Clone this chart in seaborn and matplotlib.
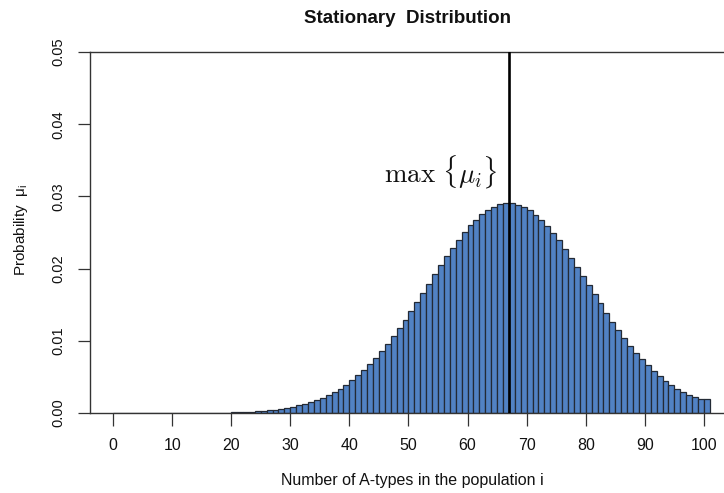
import numpy as np
import pandas as pd
import matplotlib
matplotlib.use("Agg")
import matplotlib.pyplot as plt
from matplotlib import font_manager
import seaborn as sns

# ---- data ----
states = list(range(0, 101))
probs = [
    0.0, 0.0, 0.0, 0.0, 0.0, 0.0, 0.0, 0.0, 0.0, 0.0,
    0.0, 0.0, 0.0, 0.0, 0.0, 0.00001, 0.00002, 0.00003, 0.00004, 0.00006,
    0.00008, 0.00011, 0.00014, 0.00018, 0.00023, 0.00029, 0.00036, 0.00044, 0.00055, 0.00068,
    0.00085, 0.00105, 0.00126, 0.00152, 0.00180, 0.00209, 0.00245, 0.00286, 0.00332, 0.00388,
    0.00457, 0.00520, 0.00594, 0.00674, 0.00757, 0.00859, 0.00956, 0.01062, 0.01173, 0.01293,
    0.01413, 0.01537, 0.01662, 0.01791, 0.01921, 0.02045, 0.02170, 0.02290, 0.02401, 0.02502,
    0.02600, 0.02673, 0.02756, 0.02816, 0.02858, 0.02893, 0.02909, 0.02905, 0.02884, 0.02850,
    0.02805, 0.02747, 0.02673, 0.02588, 0.02498, 0.02390, 0.02271, 0.02153, 0.02029, 0.01902,
    0.01773, 0.01644, 0.01519, 0.01390, 0.01265, 0.01150, 0.01039, 0.00933, 0.00831, 0.00743,
    0.00668, 0.00582, 0.00508, 0.00444, 0.00381, 0.00330, 0.00284, 0.00249, 0.00220, 0.00194,
    0.00194,
]
x_ticks = list(range(0, 101, 10))
y_ticks = [0.00, 0.01, 0.02, 0.03, 0.04, 0.05]
y_tick_labels = ["0.00", "0.01", "0.02", "0.03", "0.04", "0.05"]
title = "Stationary  Distribution"
x_label = "Number of A-types in the population i"
y_label = r"Probability  $\mathregular{\mu_i}$"
annot = r"$\max\ \{\mu_i\}$"

df = pd.DataFrame({"state": states, "prob": probs})

# ---- fonts ----
avail = {f.name for f in font_manager.fontManager.ttflist}
narrow = "Liberation Sans Narrow" if "Liberation Sans Narrow" in avail else "Liberation Sans"
regular = "Liberation Sans"

sns.set_style("white")
plt.rcParams["font.family"] = [regular, "DejaVu Sans"]
plt.rcParams["text.color"] = "#111111"
plt.rcParams["axes.labelcolor"] = "#111111"
plt.rcParams["xtick.color"] = "#111111"
plt.rcParams["ytick.color"] = "#111111"

fig = plt.figure(figsize=(7.24, 4.93), dpi=100)
ax = fig.add_axes([90 / 724, 80 / 493, 634 / 724, 361 / 493])

sns.histplot(
    data=df, x="state", weights="prob", binwidth=1, binrange=(0, 101),
    color="#5182C4", edgecolor="#232a35", linewidth=0.9, alpha=1.0, ax=ax,
)

# R's which.max is 1-based
peak_line = int(np.argmax(probs)) + 1
ax.axvline(peak_line, ymin=0, ymax=1, color="black", lw=1.9, zorder=5)

ax.set_xlim(-3.9, 103.4)
ax.set_ylim(0, 0.05)

ax.spines["right"].set_visible(False)
for s in ["left", "top", "bottom"]:
    ax.spines[s].set_visible(True)
    ax.spines[s].set_color("#333333")
    ax.spines[s].set_linewidth(1.0)

ax.set_xticks(x_ticks)
ax.set_xticklabels([str(t) for t in x_ticks], family=[narrow, regular], fontsize=11.5)
ax.set_yticks(y_ticks)
ax.set_yticklabels(y_tick_labels, rotation=90, va="center", fontsize=10.5)
ax.tick_params(axis="x", direction="out", length=9, width=0.9, color="#333333", pad=9, bottom=True)
ax.tick_params(axis="y", direction="out", length=9, width=0.9, color="#333333", pad=9, left=True)

ax.set_xlabel(x_label, family=[narrow, regular], fontsize=11.5)
ax.xaxis.set_label_coords((412 - 90) / 634, -0.165)
ax.set_ylabel(y_label, fontsize=11)
ax.yaxis.set_label_coords(-0.095, (413 - 230) / 361)

ax.set_title(title, fontweight="bold", family=[narrow, regular], fontsize=13.5, pad=21)

ax.text(65.0, 0.0333, annot, ha="right", va="center", fontsize=19.5, math_fontfamily="cm")

ax.grid(False)
fig.savefig("out.png", dpi=100)
